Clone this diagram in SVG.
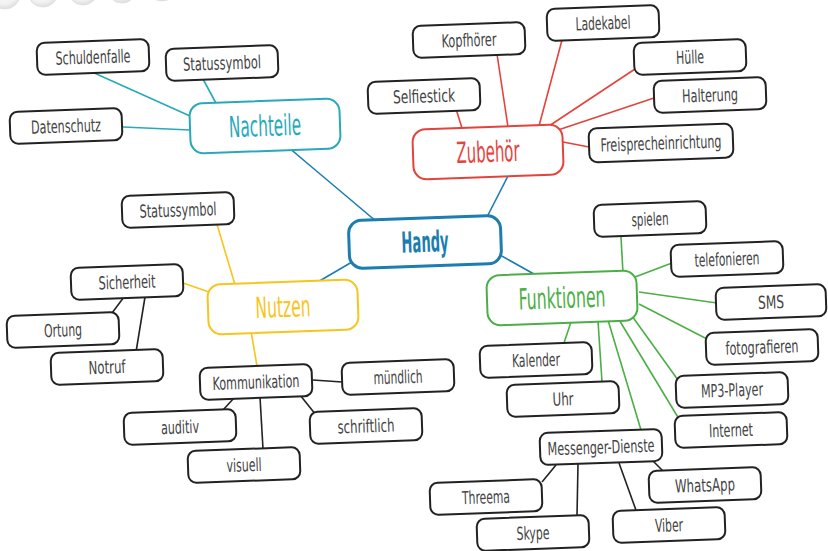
<svg xmlns="http://www.w3.org/2000/svg" width="828" height="551" viewBox="0 0 828 551">
<defs>
<radialGradient id="hole" cx="0.45" cy="0.35" r="0.7">
<stop offset="0" stop-color="#ffffff"/>
<stop offset="0.7" stop-color="#f2f2f2"/>
<stop offset="1" stop-color="#d8d8d8"/>
</radialGradient>
</defs>
<style>
.box{fill:#fff;stroke:#222;stroke-width:2}
.t{font-family:"DejaVu Sans Condensed","DejaVu Sans","Liberation Sans",sans-serif;font-size:18px;fill:#444;text-anchor:middle}
.m{font-family:"DejaVu Sans Condensed","DejaVu Sans","Liberation Sans",sans-serif;font-size:29px;text-anchor:middle}
.c line{stroke-width:1.6;fill:none}
.blue{stroke:#1b7db0}
.teal{stroke:#27a9ba}
.red{stroke:#e4433b}
.yel{stroke:#f7c51c}
.grn{stroke:#4caf46}
.blk{stroke:#222}
</style>
<rect width="828" height="551" fill="#fff"/>
<g id="holes" fill="url(#hole)" stroke="#e0e0e0" stroke-width="1">
<circle cx="5" cy="-6" r="15"/>
<circle cx="43" cy="-8" r="15"/>
<circle cx="83" cy="-10" r="15"/>
<circle cx="122" cy="-12" r="15"/>
<circle cx="162" cy="-14" r="15"/>
</g>
<g id="connectors" class="c">
<line class="blue" x1="288" y1="147" x2="377" y2="222"/>
<line class="blue" x1="510" y1="172" x2="487" y2="217"/>
<line class="blue" x1="352" y1="262" x2="316" y2="283"/>
<line class="blue" x1="500" y1="255" x2="541" y2="278"/>
<line class="teal" x1="92" y1="72" x2="190" y2="116"/>
<line class="teal" x1="203" y1="79" x2="218" y2="107"/>
<line class="teal" x1="123" y1="127" x2="190" y2="130"/>
<line class="red" x1="456" y1="109" x2="462" y2="128"/>
<line class="red" x1="497" y1="54" x2="508" y2="127"/>
<line class="red" x1="562" y1="40" x2="539" y2="126"/>
<line class="red" x1="635" y1="69" x2="549" y2="126"/>
<line class="red" x1="654" y1="98" x2="558" y2="130"/>
<line class="red" x1="589" y1="147" x2="563" y2="142"/>
<line class="yel" x1="216" y1="221" x2="236" y2="288"/>
<line class="yel" x1="183" y1="283" x2="212" y2="293"/>
<line class="yel" x1="251" y1="331" x2="257" y2="366"/>
<line class="blk" x1="124" y1="297" x2="112" y2="313"/>
<line class="blk" x1="145" y1="297" x2="136" y2="352"/>
<line class="blk" x1="313" y1="380" x2="342" y2="382"/>
<line class="blk" x1="234" y1="398" x2="223" y2="410"/>
<line class="blk" x1="260" y1="397" x2="263" y2="449"/>
<line class="blk" x1="300" y1="395" x2="316" y2="415"/>
<line class="grn" x1="623" y1="273" x2="621" y2="237"/>
<line class="grn" x1="635" y1="277" x2="672" y2="263"/>
<line class="grn" x1="639" y1="292" x2="717" y2="303"/>
<line class="grn" x1="639" y1="304" x2="707" y2="339"/>
<line class="grn" x1="571" y1="322" x2="564" y2="343"/>
<line class="grn" x1="598" y1="321" x2="602" y2="382"/>
<line class="grn" x1="608" y1="320" x2="641" y2="430"/>
<line class="grn" x1="618" y1="318" x2="679" y2="419"/>
<line class="grn" x1="632" y1="316" x2="678" y2="380"/>
<line class="blk" x1="556" y1="465" x2="542" y2="482"/>
<line class="blk" x1="578" y1="464" x2="577" y2="516"/>
<line class="blk" x1="619" y1="463" x2="637" y2="513"/>
<line class="blk" x1="652" y1="460" x2="665" y2="473"/>
</g>

<g id="handy" transform="translate(425,242) rotate(-2)">
<rect x="-76" y="-24" width="152" height="48" rx="13" fill="#fff" stroke="#1b7db0" stroke-width="3"/>
<text class="m" y="10" fill="#1b7db0" font-weight="bold" textLength="47" lengthAdjust="spacingAndGlyphs">Handy</text>
</g>
<g id="nachteile" transform="translate(265,126) rotate(-2)">
<rect x="-75" y="-25" width="150" height="50" rx="13" fill="#fff" stroke="#27a9ba" stroke-width="2"/>
<text class="m" y="10" fill="#27a9ba" textLength="72" lengthAdjust="spacingAndGlyphs">Nachteile</text>
</g>
<g id="zubehoer" transform="translate(488,152) rotate(-2)">
<rect x="-75" y="-25" width="150" height="50" rx="13" fill="#fff" stroke="#e4433b" stroke-width="2"/>
<text class="m" y="10" fill="#e4433b" textLength="63" lengthAdjust="spacingAndGlyphs">Zubehör</text>
</g>
<g id="nutzen" transform="translate(283,307) rotate(-2)">
<rect x="-75" y="-25" width="150" height="50" rx="13" fill="#fff" stroke="#f7c51c" stroke-width="2"/>
<text class="m" y="10" fill="#f7c51c" textLength="55" lengthAdjust="spacingAndGlyphs">Nutzen</text>
</g>
<g id="funktionen" transform="translate(562,298) rotate(-2)">
<rect x="-75" y="-25" width="150" height="50" rx="13" fill="#fff" stroke="#4caf46" stroke-width="2"/>
<text class="m" y="10" fill="#4caf46" textLength="87" lengthAdjust="spacingAndGlyphs">Funktionen</text>
</g>

<g id="schuldenfalle" transform="translate(93,57) rotate(-2)"><rect class="box" x="-56" y="-16" width="112" height="32" rx="8"/><text class="t" y="6.5" textLength="75" lengthAdjust="spacingAndGlyphs">Schuldenfalle</text></g>
<g id="statussymbol1" transform="translate(222,63) rotate(-2)"><rect class="box" x="-56" y="-16" width="112" height="32" rx="8"/><text class="t" y="6.5" textLength="78" lengthAdjust="spacingAndGlyphs">Statussymbol</text></g>
<g id="datenschutz" transform="translate(66,126) rotate(-2)"><rect class="box" x="-56" y="-16" width="112" height="32" rx="8"/><text class="t" y="6.5" textLength="70" lengthAdjust="spacingAndGlyphs">Datenschutz</text></g>

<g id="selfiestick" transform="translate(424,96) rotate(-2)"><rect class="box" x="-56" y="-16" width="112" height="32" rx="8"/><text class="t" y="6.5" textLength="62" lengthAdjust="spacingAndGlyphs">Selfiestick</text></g>
<g id="kopfhoerer" transform="translate(469,40) rotate(-2)"><rect class="box" x="-56" y="-16" width="112" height="32" rx="8"/><text class="t" y="6.5" textLength="55" lengthAdjust="spacingAndGlyphs">Kopfhörer</text></g>
<g id="ladekabel" transform="translate(603,23) rotate(-2)"><rect class="box" x="-56" y="-16" width="112" height="32" rx="8"/><text class="t" y="6.5" textLength="55" lengthAdjust="spacingAndGlyphs">Ladekabel</text></g>
<g id="huelle" transform="translate(690,57) rotate(-2)"><rect class="box" x="-56" y="-16" width="112" height="32" rx="8"/><text class="t" y="6.5" textLength="28" lengthAdjust="spacingAndGlyphs">Hülle</text></g>
<g id="halterung" transform="translate(710,95) rotate(-2)"><rect class="box" x="-56" y="-16" width="112" height="32" rx="8"/><text class="t" y="6.5" textLength="56" lengthAdjust="spacingAndGlyphs">Halterung</text></g>
<g id="freisprecheinrichtung" transform="translate(661,143) rotate(-2)"><rect class="box" x="-72" y="-17" width="144" height="34" rx="8"/><text class="t" y="6.5" textLength="121" lengthAdjust="spacingAndGlyphs">Freisprecheinrichtung</text></g>

<g id="statussymbol2" transform="translate(178,210) rotate(-2)"><rect class="box" x="-56" y="-16" width="112" height="32" rx="8"/><text class="t" y="6.5" textLength="77" lengthAdjust="spacingAndGlyphs">Statussymbol</text></g>
<g id="sicherheit" transform="translate(127,282) rotate(-2)"><rect class="box" x="-56" y="-16" width="112" height="32" rx="8"/><text class="t" y="6.5" textLength="57" lengthAdjust="spacingAndGlyphs">Sicherheit</text></g>
<g id="ortung" transform="translate(63,330) rotate(-2)"><rect class="box" x="-56" y="-16" width="112" height="32" rx="8"/><text class="t" y="6.5" textLength="38" lengthAdjust="spacingAndGlyphs">Ortung</text></g>
<g id="notruf" transform="translate(107,367) rotate(-2)"><rect class="box" x="-56" y="-16" width="112" height="32" rx="8"/><text class="t" y="6.5" textLength="37" lengthAdjust="spacingAndGlyphs">Notruf</text></g>
<g id="kommunikation" transform="translate(256,382) rotate(-2)"><rect class="box" x="-56" y="-16" width="112" height="32" rx="8"/><text class="t" y="6.5" textLength="87" lengthAdjust="spacingAndGlyphs">Kommunikation</text></g>
<g id="muendlich" transform="translate(398,377) rotate(-2)"><rect class="box" x="-56" y="-16" width="112" height="32" rx="8"/><text class="t" y="6.5" textLength="49" lengthAdjust="spacingAndGlyphs">mündlich</text></g>
<g id="auditiv" transform="translate(180,427) rotate(-2)"><rect class="box" x="-56" y="-16" width="112" height="32" rx="8"/><text class="t" y="6.5" textLength="38" lengthAdjust="spacingAndGlyphs">auditiv</text></g>
<g id="schriftlich" transform="translate(366,426) rotate(-2)"><rect class="box" x="-56" y="-16" width="112" height="32" rx="8"/><text class="t" y="6.5" textLength="57" lengthAdjust="spacingAndGlyphs">schriftlich</text></g>
<g id="visuell" transform="translate(244,465) rotate(-2)"><rect class="box" x="-56" y="-16" width="112" height="32" rx="8"/><text class="t" y="6.5" textLength="35" lengthAdjust="spacingAndGlyphs">visuell</text></g>

<g id="spielen" transform="translate(650,219) rotate(-2)"><rect class="box" x="-56" y="-16" width="112" height="32" rx="8"/><text class="t" y="6.5" textLength="37" lengthAdjust="spacingAndGlyphs">spielen</text></g>
<g id="telefonieren" transform="translate(727,259) rotate(-2)"><rect class="box" x="-56" y="-16" width="112" height="32" rx="8"/><text class="t" y="6.5" textLength="65" lengthAdjust="spacingAndGlyphs">telefonieren</text></g>
<g id="sms" transform="translate(771,302) rotate(-2)"><rect class="box" x="-55" y="-16" width="110" height="32" rx="8"/><text class="t" y="6.5" textLength="26" lengthAdjust="spacingAndGlyphs">SMS</text></g>
<g id="fotografieren" transform="translate(762,347) rotate(-2)"><rect class="box" x="-56" y="-16" width="112" height="32" rx="8"/><text class="t" y="6.5" textLength="73" lengthAdjust="spacingAndGlyphs">fotografieren</text></g>
<g id="kalender" transform="translate(536,360) rotate(-2)"><rect class="box" x="-56" y="-16" width="112" height="32" rx="8"/><text class="t" y="6.5" textLength="48" lengthAdjust="spacingAndGlyphs">Kalender</text></g>
<g id="mp3player" transform="translate(732,390) rotate(-2)"><rect class="box" x="-56" y="-16" width="112" height="32" rx="8"/><text class="t" y="6.5" textLength="62" lengthAdjust="spacingAndGlyphs">MP3-Player</text></g>
<g id="uhr" transform="translate(563,399) rotate(-2)"><rect class="box" x="-56" y="-16" width="112" height="32" rx="8"/><text class="t" y="6.5" textLength="21" lengthAdjust="spacingAndGlyphs">Uhr</text></g>
<g id="internet" transform="translate(731,430) rotate(-2)"><rect class="box" x="-56" y="-16" width="112" height="32" rx="8"/><text class="t" y="6.5" textLength="44" lengthAdjust="spacingAndGlyphs">Internet</text></g>
<g id="messenger" transform="translate(601,447) rotate(-2)"><rect class="box" x="-61" y="-16" width="122" height="32" rx="8"/><text class="t" y="6.5" textLength="107" lengthAdjust="spacingAndGlyphs">Messenger-Dienste</text></g>
<g id="whatsapp" transform="translate(705,485) rotate(-2)"><rect class="box" x="-56" y="-16" width="112" height="32" rx="8"/><text class="t" y="6.5" textLength="60" lengthAdjust="spacingAndGlyphs">WhatsApp</text></g>
<g id="threema" transform="translate(486,497) rotate(-2)"><rect class="box" x="-56" y="-16" width="112" height="32" rx="8"/><text class="t" y="6.5" textLength="48" lengthAdjust="spacingAndGlyphs">Threema</text></g>
<g id="skype" transform="translate(533,533) rotate(-2)"><rect class="box" x="-56" y="-16" width="112" height="32" rx="8"/><text class="t" y="6.5" textLength="33" lengthAdjust="spacingAndGlyphs">Skype</text></g>
<g id="viber" transform="translate(669,525) rotate(-2)"><rect class="box" x="-56" y="-16" width="112" height="32" rx="8"/><text class="t" y="6.5" textLength="28" lengthAdjust="spacingAndGlyphs">Viber</text></g>
</svg>
